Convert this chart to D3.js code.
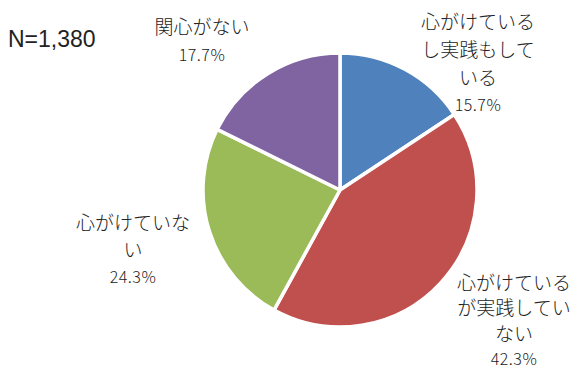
<!DOCTYPE html>
<html>
<head>
<meta charset="utf-8">
<script src="https://cdn.jsdelivr.net/npm/d3@7"></script>
<style>
  body { margin: 0; background: #fff; }
</style>
</head>
<body>
<div id="drawArea"></div>
<script>
// data
var categories = ["心がけているし実践もしている", "心がけているが実践していない", "心がけていない", "関心がない"];
var values = [15.7, 42.3, 24.3, 17.7];
var colors = ["#4F81BD", "#C0504D", "#9BBB59", "#8064A2"];
var sampleLabel = "N=1,380";

// label block placement (centre x, first line centre y)
var labelPos = [[478, 20], [514, 281], [133, 221], [202, 25]];
var lineGap = [28, 25.5, 27.5, 29];

var width = 585, height = 374;
var cx = 340, cy = 190, radius = 137;
var jpFont = "'Noto Sans CJK JP', 'Noto Sans', sans-serif";

var svg = d3.select("#drawArea").append("svg")
  .attr("width", width)
  .attr("height", height);

var pie = d3.pie().sort(null).value(function(d) { return d; });
var arc = d3.arc().innerRadius(0).outerRadius(radius);
var arcs = pie(values);

svg.append("g")
  .attr("transform", "translate(" + cx + "," + cy + ")")
  .selectAll("path")
  .data(arcs)
  .enter()
  .append("path")
    .attr("d", arc)
    .attr("fill", function(d, i) { return colors[i]; })
    .attr("stroke", "#fff")
    .attr("stroke-width", 3.5)
    .attr("stroke-linejoin", "round");

// wrap names every 6 characters like the original
function wrap(s, n) {
  var out = [];
  for (var i = 0; i < s.length; i += n) out.push(s.slice(i, i + n));
  return out;
}

arcs.forEach(function(d, i) {
  var lines = wrap(categories[i], 6);
  var g = svg.append("g");
  lines.forEach(function(t, k) {
    g.append("text")
      .attr("x", labelPos[i][0])
      .attr("y", labelPos[i][1] + k * lineGap[i])
      .attr("text-anchor", "middle")
      .attr("dominant-baseline", "central")
      .attr("font-family", jpFont)
      .attr("font-size", 19)
      .attr("font-weight", 300)
      .attr("fill", "#222")
      .text(t);
  });
  g.append("text")
    .attr("x", labelPos[i][0])
    .attr("y", labelPos[i][1] + lines.length * lineGap[i])
    .attr("text-anchor", "middle")
    .attr("dominant-baseline", "central")
    .attr("font-family", jpFont)
    .attr("font-size", 16)
    .attr("font-weight", 300)
    .attr("letter-spacing", 0.5)
    .attr("fill", "#222")
    .text(d3.format(".1f")(values[i]) + "%");
});

svg.append("text")
  .attr("x", 8)
  .attr("y", 47)
  .attr("font-family", "'Liberation Sans', Arial, sans-serif")
  .attr("font-size", 23)
  .attr("fill", "#222")
  .text(sampleLabel);
</script>
</body>
</html>
